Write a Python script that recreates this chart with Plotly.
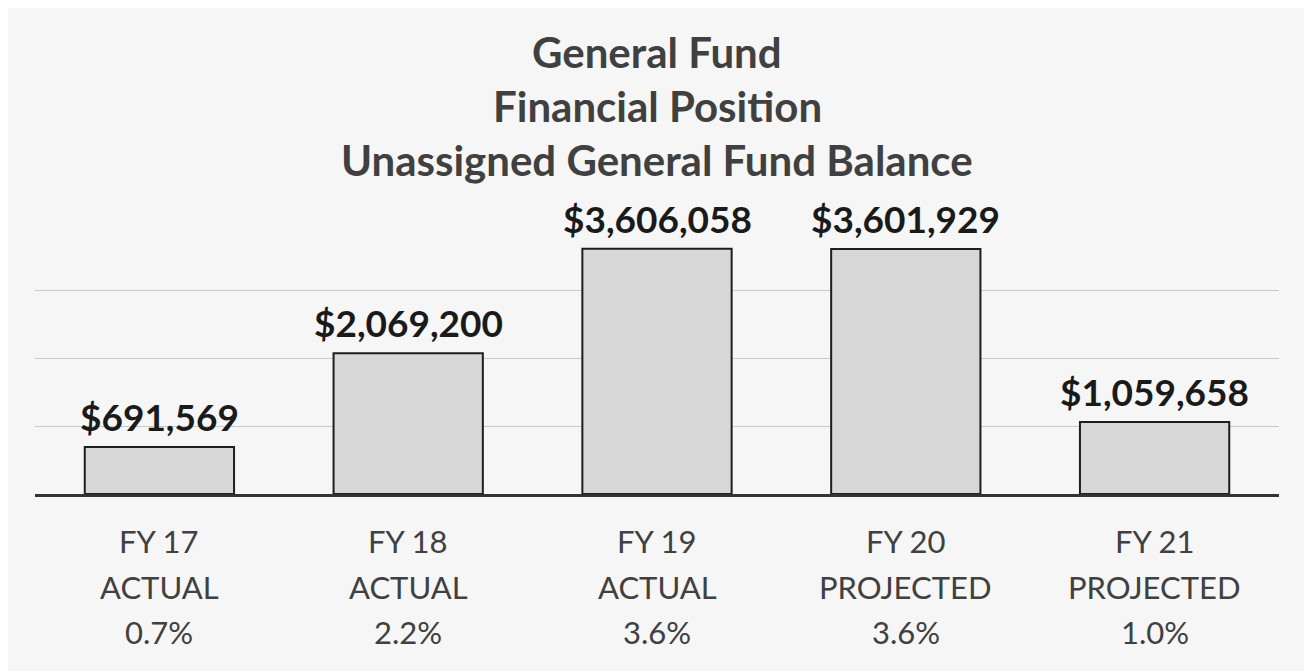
import plotly.graph_objects as go

categories = ["FY 17", "FY 18", "FY 19", "FY 20", "FY 21"]
status = ["ACTUAL", "ACTUAL", "ACTUAL", "PROJECTED", "PROJECTED"]
pcts = ["0.7%", "2.2%", "3.6%", "3.6%", "1.0%"]
balances = [691569, 2069200, 3606058, 3601929, 1059658]
grid_vals = [1000000, 2000000, 3000000]
title_lines = ["General Fund", "Financial Position", "Unassigned General Fund Balance"]

BG = "#f6f6f6"
TXT = "#404040"

fig = go.Figure()
fig.add_trace(go.Bar(
    x=categories, y=balances,
    marker=dict(color="#d7d7d7", line=dict(color="#1e1e1e", width=2)),
    hoverinfo="skip",
))

annotations = []
for c, v in zip(categories, balances):
    annotations.append(dict(
        x=c, y=v, xref="x", yref="y", text=f"<b>${v:,.0f}</b>",
        showarrow=False, yanchor="bottom", yshift=6,
        font=dict(family="Lato", size=37, color="#1a1a1a"),
    ))

# category labels (three lines each)
plot_h = 272.0
def py_to_paper(py):
    return (494.0 - py) / plot_h

for c, s, p in zip(categories, status, pcts):
    for txt, py in ((c, 541), (s, 587), (p, 632)):
        annotations.append(dict(
            x=c, y=py_to_paper(py), xref="x", yref="paper", text=txt,
            showarrow=False, yanchor="middle", xanchor="center",
            font=dict(family="Lato", size=31, color=TXT),
        ))

for line, py in zip(title_lines, (52, 106, 160)):
    annotations.append(dict(
        x=0.5, y=py_to_paper(py), xref="paper", yref="paper",
        text=f"<b>{line}</b>", showarrow=False, yanchor="middle", xanchor="center",
        font=dict(family="Lato", size=42, color=TXT),
    ))

fig.update_layout(
    width=1304, height=663,
    margin=dict(l=27, r=33, t=214, b=177),
    paper_bgcolor=BG, plot_bgcolor=BG,
    bargap=0.4,
    showlegend=False,
    annotations=annotations,
    xaxis=dict(showticklabels=False, showgrid=False, zeroline=False,
               showline=True, linecolor="#333333", linewidth=2.5, ticks=""),
    yaxis=dict(range=[0, 4000000], tickvals=grid_vals, showticklabels=False,
               showgrid=True, gridcolor="#c9c9c9", gridwidth=1,
               zeroline=False, showline=False, ticks=""),
)

fig.write_html("out.html")
